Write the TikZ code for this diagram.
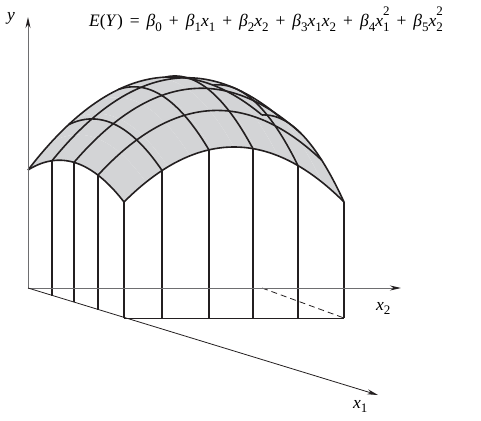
\documentclass[tikz,border=0pt]{standalone}
\usepackage{fontspec}
\setmainfont{Liberation Serif}
\usetikzlibrary{arrows.meta}
\definecolor{surfgray}{RGB}{211,212,214}
\definecolor{ink}{RGB}{35,31,32}
\definecolor{axisgray}{RGB}{110,110,112}
\newcommand{\scr}[1]{{\fontsize{13}{15}\selectfont #1}}
\newcommand{\lo}[1]{\raisebox{-0.28em}{\scr{#1}}}
\newcommand{\hi}[1]{\raisebox{0.68em}{\scr{#1}}}
\newcommand{\xs}[1]{\textit{x}\lo{#1}}
\newcommand{\xss}[1]{\textit{x}\rlap{\hi{2}}\lo{#1}}
\newcommand{\bs}[1]{\textit{β}\lo{#1}}
\newcommand{\gap}{\hspace{0.40em}}
\begin{document}
\begin{tikzpicture}[x=1pt,y=-1pt,
  declare function={
    hh(\u,\v)=118-2*\u+55*\v*(1-\u)+(250-30*\u)*\v*(1-\v)+92*\u*(1-\u);
    px(\u,\v)=28+96*\u+\v*(234-14*\u);
    py(\u,\v)=288+30*\u-hh(\u,\v);
  },
  surf/.style={fill=surfgray},
  gridline/.style={draw=ink,line width=1.6pt},
  vline/.style={draw=ink,line width=1.6pt},
  axisline/.style={draw=axisgray,line width=1pt},
  baseline/.style={draw=ink,line width=0.8pt},
  tip/.style={-{Stealth[length=11pt,width=5pt,color=ink]}},
  lbl/.style={font=\fontsize{17.5}{19}\selectfont,inner sep=0pt}
]
\useasboundingbox (0,0) rectangle (481,420);
% surface fill
\foreach \a/\b in {0/0.1,0.1/0.2,0.2/0.3,0.3/0.4,0.4/0.5,0.5/0.6,0.6/0.7,0.7/0.8,0.8/0.9,0.9/1}{
  \fill[surf] plot[domain=0:1,samples=31,variable=\t] ({px(\t,\a)},{py(\t,\a)})
    -- plot[domain=\a:\b,samples=5,variable=\t] ({px(1,\t)},{py(1,\t)})
    -- plot[domain=1:0,samples=31,variable=\t] ({px(\t,\b)},{py(\t,\b)})
    -- plot[domain=\b:\a,samples=5,variable=\t] ({px(0,\t)},{py(0,\t)}) -- cycle;
}
% grid lines constant v
\foreach \v in {0,0.173,0.386,0.586,0.791,1}{
  \draw[gridline] plot[domain=0:1,samples=41,smooth,variable=\t] ({px(\t,\v)},{py(\t,\v)});
}
% grid lines constant u
\foreach \u in {0,0.25,0.479,0.729,1}{
  \draw[gridline] plot[domain=0:1,samples=41,smooth,variable=\t] ({px(\u,\t)},{py(\u,\t)});
}
% coordinates
\coordinate (O) at (28,288);
\coordinate (Ytip) at (28,17);
\coordinate (X2tip) at (401,288);
\coordinate (X1tip) at (378,395);
\coordinate (BL) at (124,318);
\coordinate (BR) at (344,318);
\coordinate (BB) at (262,288);
% base
\draw[baseline] (BL) -- (BR);
\draw[baseline,dashed,dash pattern=on 6pt off 4pt] (BB) -- (BR);
% left face verticals
\foreach \u in {0.25,0.479,0.729,1}{
  \draw[vline] ({px(\u,0)},{288+30*\u}) -- ({px(\u,0)},{py(\u,0)});
}
% front face verticals
\foreach \v in {0.173,0.386,0.586,0.791,1}{
  \draw[vline] ({px(1,\v)},318) -- ({px(1,\v)},{py(1,\v)});
}
% axes
\draw[axisline,tip] (O) -- (Ytip);
\draw[axisline,tip] (O) -- (X2tip);
\draw[baseline,tip] (O) -- (X1tip);
% labels
\node[lbl,anchor=base] (ylab) at (11,21) {\textit{y}};
\node[lbl,anchor=base west] (x2lab) at (376,310) {\xs{2}};
\node[lbl,anchor=base west] (x1lab) at (353,408) {\xs{1}};
\node[lbl,anchor=base west] (eq) at (89,27)
  {\textit{E}(\textit{Y})\gap=\gap\bs{0}\gap+\gap\bs{1}\xs{1}\gap+\gap\bs{2}\xs{2}\gap+\gap\bs{3}\xs{1}\xs{2}\gap+\gap\bs{4}\xss{1}\gap+\gap\bs{5}\xss{2}};
\end{tikzpicture}
\end{document}
